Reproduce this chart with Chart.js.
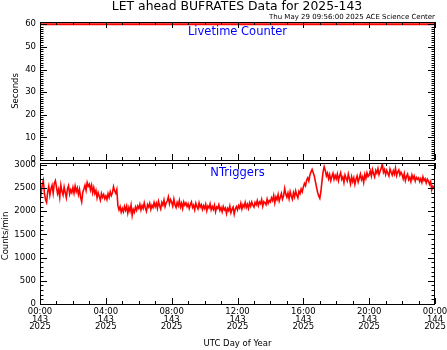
<!DOCTYPE html>
<html>
<head>
<meta charset="utf-8">
<title>LET ahead BUFRATES Data for 2025-143</title>
<script src="https://cdn.jsdelivr.net/npm/chart.js@4.4.1/dist/chart.umd.min.js"></script>
<style>
  body { margin: 0; background: #fff; }
  #wrap { position: relative; width: 447px; height: 350px; overflow: hidden; font-family: "DejaVu Sans", sans-serif; color: #000; }
  #wrap canvas { position: absolute; left: 0; top: 0; }
  .txt { position: absolute; white-space: nowrap; line-height: 1; transform: translate(-50%, -50%); }
  .rot { transform: translate(-50%, -50%) rotate(-90deg); }
  .small { font-size: 8.5px; }
  .panel { font-size: 11.5px; color: #0000ff; }
</style>
</head>
<body>
<div id="wrap">
  <canvas id="live-chart" width="447" height="350"></canvas>
  <canvas id="trig-chart" width="447" height="350"></canvas>
  <div class="txt" style="left:237px; top:6px; font-size:12.4px;">LET ahead BUFRATES Data for 2025-143</div>
  <div class="txt" style="left:auto; right:12px; top:17px; font-size:7px; transform:translateY(-50%);">Thu May 29 09:56:00 2025 ACE Science Center</div>
  <div class="txt panel" style="left:237.5px; top:32px;">Livetime Counter</div>
  <div class="txt panel" style="left:237.5px; top:173px;">NTriggers</div>
  <div class="txt rot small" style="left:15px; top:91px;">Seconds</div>
  <div class="txt rot small" style="left:5px; top:236px;">Counts/min</div>
  <div class="txt small" style="left:237.5px; top:343px;">UTC Day of Year</div>
</div>
<script>
// Sampling of the NTriggers series (one value every 4 minutes)
const sampleMinutes = 4;

// NTriggers, counts/min, one row per hour of day 143
const nTriggers = [
  2470, 2380, 2560, 2660, 2400, 2250, 2190, 2420, 2540, 2350, 2480, 2560, 2390, 2600, 2660, // 00
  2520, 2380, 2470, 2300, 2560, 2430, 2350, 2520, 2400, 2290, 2480, 2550, 2370, 2460, 2400, // 01
  2510, 2390, 2540, 2420, 2500, 2360, 2470, 2300, 2200, 2410, 2480, 2560, 2450, 2620, 2540, // 02
  2580, 2460, 2560, 2400, 2510, 2380, 2450, 2290, 2400, 2320, 2240, 2380, 2300, 2360, 2270, // 03
  2330, 2250, 2380, 2300, 2420, 2340, 2400, 2530, 2440, 2390, 2470, 2120, 2030, 2100, 1980, // 04
  2060, 1990, 2100, 2020, 2110, 1960, 2080, 2000, 2130, 1910, 2040, 1980, 2090, 2020, 2110, // 05
  2060, 2150, 2030, 2120, 2060, 2180, 2070, 2000, 2140, 2090, 2170, 2040, 2130, 2080, 2190, // 06
  2100, 2170, 2060, 2210, 2120, 2050, 2190, 2130, 2240, 2100, 2180, 2220, 2310, 2160, 2250, // 07
  2200, 2110, 2260, 2140, 2080, 2190, 2120, 2230, 2090, 2170, 2060, 2200, 2130, 2180, 2100, // 08
  2160, 2060, 2140, 2200, 2080, 2130, 2030, 2170, 2100, 2050, 2180, 2090, 2140, 2040, 2120, // 09
  2060, 2150, 2010, 2110, 2070, 2160, 2030, 2100, 2040, 2130, 1990, 2090, 2060, 2140, 2020, // 10
  2080, 1990, 2100, 2030, 2070, 1950, 2060, 2010, 2110, 1970, 2040, 2090, 1940, 2050, 2100, // 11
  2030, 2120, 2070, 2170, 2050, 2140, 2090, 2190, 2080, 2150, 2060, 2180, 2110, 2200, 2130, // 12
  2090, 2190, 2140, 2230, 2120, 2200, 2160, 2250, 2110, 2210, 2180, 2140, 2260, 2170, 2230, // 13
  2200, 2290, 2230, 2340, 2180, 2310, 2250, 2360, 2220, 2300, 2380, 2260, 2330, 2490, 2370, // 14
  2300, 2390, 2270, 2420, 2330, 2260, 2400, 2310, 2440, 2350, 2290, 2430, 2380, 2480, 2420, // 15
  2520, 2600, 2550, 2670, 2720, 2650, 2780, 2850, 2900, 2830, 2760, 2640, 2520, 2410, 2330, // 16
  2280, 2420, 2650, 2850, 2960, 2880, 2760, 2820, 2700, 2790, 2660, 2750, 2820, 2690, 2770, // 17
  2700, 2800, 2660, 2760, 2830, 2690, 2740, 2620, 2780, 2710, 2650, 2800, 2700, 2590, 2740, // 18
  2640, 2720, 2580, 2690, 2760, 2630, 2710, 2800, 2680, 2740, 2620, 2790, 2710, 2830, 2750, // 19
  2780, 2870, 2760, 2900, 2810, 2740, 2880, 2820, 2920, 2790, 2860, 2930, 3020, 2840, 2900, // 20
  2790, 2880, 2820, 2760, 2910, 2840, 2780, 2870, 2800, 2930, 2770, 2850, 2890, 2780, 2840, // 21
  2790, 2700, 2810, 2660, 2750, 2800, 2680, 2730, 2640, 2780, 2700, 2760, 2650, 2730, 2690, // 22
  2720, 2640, 2700, 2620, 2740, 2660, 2700, 2610, 2690, 2650, 2580, 2640, 2460, 2540, 2500, // 23
  2560                                                                                      // 24:00
];

// Livetime counter, seconds (flat at 60 all day)
const livetimeHours = [0, 6, 12, 18, 24];
const livetime = [60, 60, 60, 60, 60];

// Axis tick labels
const xTickHours = [0, 4, 8, 12, 16, 20, 24];
const xTickTimes = ['00:00', '04:00', '08:00', '12:00', '16:00', '20:00', '00:00'];
const xTickDays = ['143', '143', '143', '143', '143', '143', '144'];
const xTickYears = ['2025', '2025', '2025', '2025', '2025', '2025', '2025'];
const secondsTicks = [0, 10, 20, 30, 40, 50, 60];
const countsTicks = [0, 500, 1000, 1500, 2000, 2500, 3000];

const tickFont = { family: 'DejaVu Sans', size: 8.5 };

// Box around each panel with inward tick marks on all four sides
const frameTicks = {
  id: 'frameTicks',
  afterDatasetsDraw(chart, args, opts) {
    const { ctx, chartArea: a, scales: { x, y } } = chart;
    ctx.save();
    ctx.strokeStyle = '#000';
    ctx.lineWidth = 1;
    ctx.strokeRect(a.left + 0.5, a.top + 0.5, a.right - a.left - 1, a.bottom - a.top);
    ctx.beginPath();
    for (let v = x.min; v <= x.max + 1e-9; v += opts.xMinor) {
      const px = Math.round(x.getPixelForValue(v)) + 0.5;
      const len = Math.abs(v % opts.xMajor) < 1e-9 ? 6 : 3;
      ctx.moveTo(px, a.top); ctx.lineTo(px, a.top + len);
      ctx.moveTo(px, a.bottom); ctx.lineTo(px, a.bottom - len);
    }
    for (let v = 0; v <= y.max + 1e-9; v += opts.yMinor) {
      const py = Math.round(y.getPixelForValue(v)) + 0.5;
      const len = Math.abs(v % opts.yMajor) < 1e-9 ? 7 : 3.5;
      ctx.moveTo(a.left, py); ctx.lineTo(a.left + len, py);
      ctx.moveTo(a.right, py); ctx.lineTo(a.right - len, py);
    }
    ctx.stroke();
    ctx.restore();
  }
};

function yAxis(ticks, max) {
  return {
    min: 0,
    max: max,
    afterFit: s => { s.width = 40; },
    afterBuildTicks: s => { s.ticks = ticks.map(v => ({ value: v })); },
    grid: { display: false, drawTicks: false },
    border: { display: false },
    ticks: { color: '#000', font: tickFont, padding: 4, autoSkip: false, callback: v => String(v) }
  };
}

// Top panel: livetime counter
new Chart(document.getElementById('live-chart'), {
  type: 'line',
  data: {
    datasets: [{
      data: livetime.map((v, i) => ({ x: livetimeHours[i], y: v })),
      borderColor: '#ff0000',
      borderWidth: 2,
      pointRadius: 0
    }]
  },
  options: {
    responsive: false,
    animation: false,
    layout: { padding: { left: 0, right: 12, top: 22, bottom: 190 } },
    scales: {
      x: { type: 'linear', display: false, min: 0, max: 24 },
      y: yAxis(secondsTicks, 61)
    },
    plugins: {
      legend: { display: false },
      tooltip: { enabled: false },
      frameTicks: { xMajor: 4, xMinor: 1, yMajor: 10, yMinor: 1 }
    }
  },
  plugins: [frameTicks]
});

// Bottom panel: NTriggers
new Chart(document.getElementById('trig-chart'), {
  type: 'line',
  data: {
    datasets: [{
      data: nTriggers.map((v, i) => ({ x: i * sampleMinutes / 60, y: v })),
      borderColor: '#ff0000',
      borderWidth: 1.6,
      pointRadius: 0
    }]
  },
  options: {
    responsive: false,
    animation: false,
    layout: { padding: { left: 0, right: 12, top: 163, bottom: 0 } },
    scales: {
      x: {
        type: 'linear',
        min: 0,
        max: 24,
        afterFit: s => { s.height = 46; s.paddingLeft = 0; s.paddingRight = 0; },
        afterBuildTicks: s => { s.ticks = xTickHours.map(v => ({ value: v })); },
        grid: { display: false, drawTicks: false },
        border: { display: false },
        ticks: {
          color: '#000',
          font: { family: 'DejaVu Sans', size: 8.5, lineHeight: '7.2px' },
          padding: 4.5,
          autoSkip: false,
          maxRotation: 0,
          callback: (v, i) => [xTickTimes[i], xTickDays[i], xTickYears[i]]
        }
      },
      y: yAxis(countsTicks, 3040)
    },
    plugins: {
      legend: { display: false },
      tooltip: { enabled: false },
      frameTicks: { xMajor: 4, xMinor: 1, yMajor: 500, yMinor: 100 }
    }
  },
  plugins: [frameTicks]
});
</script>
</body>
</html>
